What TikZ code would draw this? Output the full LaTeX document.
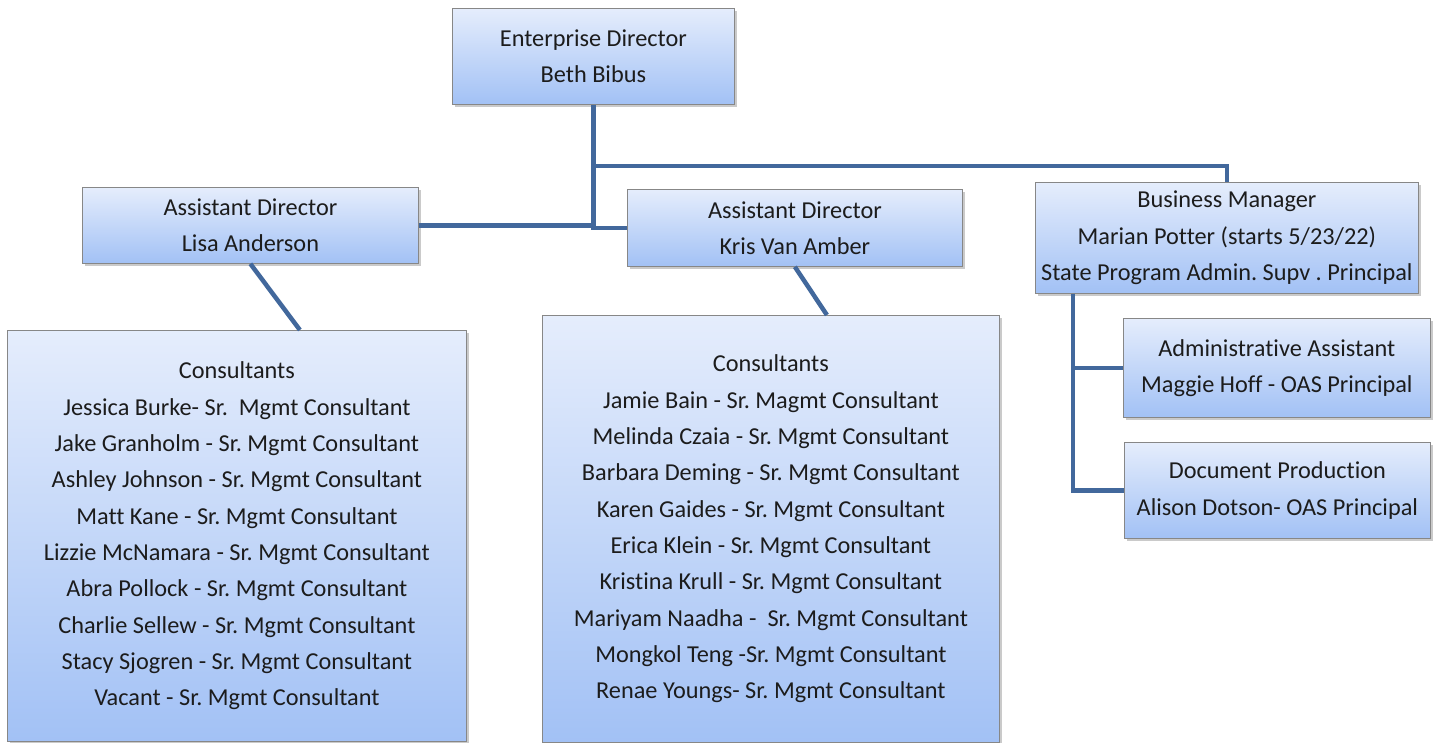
\documentclass[tikz,border=0pt]{standalone}
\usepackage{fontspec}
\setmainfont[Ligatures=NoCommon]{Carlito}
\usetikzlibrary{shadows,calc}
\frenchspacing

\definecolor{boxtop}{RGB}{229,237,252}
\definecolor{boxbot}{RGB}{162,193,245}
\definecolor{boxline}{RGB}{135,135,135}
\definecolor{linkblue}{RGB}{66,104,156}
\definecolor{ink}{RGB}{28,28,28}

\tikzset{
  orgbox/.style={rectangle, draw=boxline, line width=0.8pt,
    top color=boxtop, bottom color=boxbot, text=ink,
    align=center, inner sep=0pt, anchor=north west,
    font=\fontsize{24.3}{36.3}\selectfont,
    drop shadow={shadow xshift=2.5pt, shadow yshift=-2.5pt, opacity=0.35, fill=black!60}},
  link/.style={draw=linkblue, line width=4.5pt},
}

\begin{document}
\begin{tikzpicture}[x=1pt, y=-1pt]
\useasboundingbox (0,0) rectangle (1433,742);

% leadership
\node[orgbox, minimum width=282pt, minimum height=96pt] (ed) at (452,8)
  {Enterprise Director\\Beth Bibus};
\node[orgbox, minimum width=336pt, minimum height=76pt] (la) at (82,187)
  {Assistant Director\\Lisa Anderson};
\node[orgbox, minimum width=335pt, minimum height=77pt] (kva) at (627,189)
  {Assistant Director\\Kris Van Amber};
\node[orgbox, minimum width=383pt, minimum height=111pt] (bm) at (1035,182)
  {Business Manager\\Marian Potter (starts 5/23/22)\\State Program Admin. Supv . Principal};

% business support
\node[orgbox, minimum width=307pt, minimum height=99pt] (aa) at (1123,318)
  {Administrative Assistant\\Maggie Hoff - OAS Principal};
\node[orgbox, minimum width=306pt, minimum height=96pt] (dp) at (1124,442)
  {Document Production\\Alison Dotson- OAS Principal};

% consultant teams
\node[orgbox, minimum width=459pt, minimum height=411pt] (lc) at (7,330)
  {Consultants\\
   Jessica Burke- Sr.\ \ Mgmt Consultant\\
   Jake Granholm - Sr. Mgmt Consultant\\
   Ashley Johnson - Sr. Mgmt Consultant\\
   Matt Kane - Sr. Mgmt Consultant\\
   Lizzie McNamara - Sr. Mgmt Consultant\\
   Abra Pollock - Sr. Mgmt Consultant\\
   Charlie Sellew - Sr. Mgmt Consultant\\
   Stacy Sjogren - Sr. Mgmt Consultant\\
   Vacant - Sr. Mgmt Consultant};
\node[orgbox, minimum width=457pt, minimum height=427pt] (mc) at (542,315)
  {Consultants\\
   Jamie Bain - Sr. Magmt Consultant\\
   Melinda Czaia - Sr. Mgmt Consultant\\
   Barbara Deming - Sr. Mgmt Consultant\\
   Karen Gaides - Sr. Mgmt Consultant\\
   Erica Klein - Sr. Mgmt Consultant\\
   Kristina Krull - Sr. Mgmt Consultant\\
   Mariyam Naadha -\ \ Sr. Mgmt Consultant\\
   Mongkol Teng -Sr. Mgmt Consultant\\
   Renae Youngs- Sr. Mgmt Consultant};

% connectors
\coordinate (split) at (ed.south |- 0,166);
\coordinate (bmdrop) at ($(bm.south west)+(38,0)$);
\begin{scope}[on background layer/.try]
\draw[link] (ed.south) |- (kva.west);
\draw[link] (la.east) -- (la.east -| ed.south);
\draw[link] (split) -| (bm.north);
\draw[link] (la.south) -- ([xshift=63pt]lc.north);
\draw[link] (kva.south) -- ([xshift=56pt]mc.north);
\draw[link] (bmdrop) |- (aa.west);
\draw[link] (bmdrop) |- (dp.west);
\end{scope}
\end{tikzpicture}
\end{document}
